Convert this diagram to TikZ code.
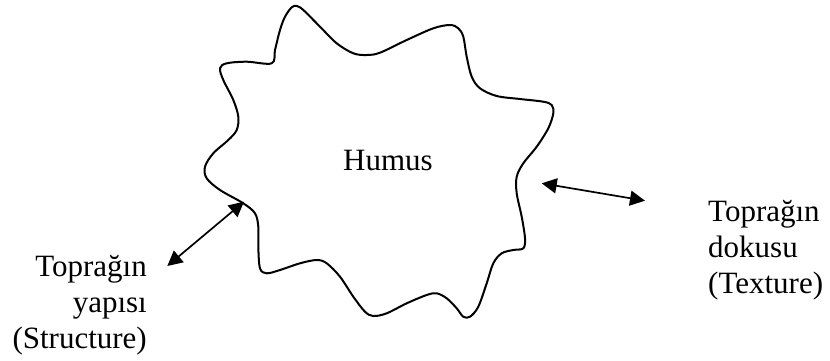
\documentclass[tikz,border=0pt]{standalone}
\usepackage{fontspec}
\setmainfont{Liberation Serif}
\usetikzlibrary{arrows.meta}
\begin{document}
\begin{tikzpicture}[x=1pt,y=-1pt,
  lbl/.style={inner sep=0pt,font=\fontsize{31}{36}\selectfont},
  blob/.style={line width=2pt,line join=round},
  link/.style={line width=1.7pt,{Triangle[length=15pt,width=15pt]}-{Triangle[length=15pt,width=15pt]}}]
\useasboundingbox (0,0) rectangle (830,360);
\draw[blob] plot[smooth cycle,tension=0.55] coordinates {
(271.7,63.3) (275,50) (280,30) (285,16.7) (291.7,7.3) (296.7,6) (303.3,10)
(320,26.7) (336.7,43.3) (353.3,53.3) (366.7,55) (380,52.7) (406.7,40)
(433.3,28.3) (450,25) (458.3,28.3) (463.3,36.7) (466.7,56.7) (471.7,76.7)
(480,88.3) (496.7,96) (520,99) (543.3,101.7) (551.7,105) (553.3,113.3)
(548.3,128.3) (536.7,146.7) (523.3,163.3) (516.7,176.7) (516.7,193.3)
(521.7,216.7) (525,238.3) (523.3,248.3) (513.3,250) (501.7,253.3)
(493.3,263.3) (486.7,283.3) (478.3,306.7) (470,316.7) (463.3,316.7)
(456.7,308.3) (446.7,298.3) (436.7,293.3) (426.7,295) (406.7,303.3)
(386.7,313.3) (373.3,316) (365,311.7) (353.3,296.7) (340,276.7)
(326.7,263.3) (316.7,260) (300,263.3) (280,270) (266.7,273.3) (260,268.3)
(258.3,246.7) (258.3,226.7) (255,213.3) (243.3,203.3) (220,190)
(206.7,178.3) (205,166.7) (213.3,153.3) (228.3,140) (236.7,130)
(238.3,116.7) (233.3,100) (223.3,80) (220,68.3) (226.7,63.3) (246.7,61.7)};
\node[lbl,anchor=base] (humus) at (388,170) {Humus};
\node[lbl,anchor=north east,align=right] (left) at (147,255) {Toprağın\\yapısı\\(Structure)};
\node[lbl,anchor=north west,align=left] (right) at (708,200) {Toprağın\\dokusu\\(Texture)};
\coordinate (sL) at (244,201.7);
\coordinate (tL) at (167.3,266);
\coordinate (sR) at (541.7,183.3);
\coordinate (tR) at (645,200.7);
\draw[link] (tL) -- (sL);
\draw[link] (sR) -- (tR);
\end{tikzpicture}
\end{document}
